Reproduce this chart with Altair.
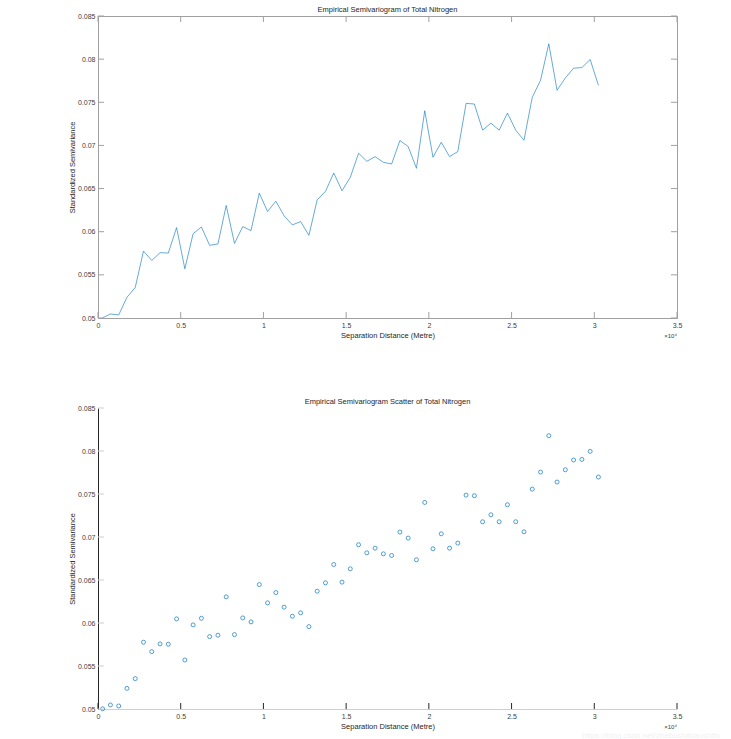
import altair as alt
import pandas as pd

# ---- data ----
distance_m = [280, 750, 1250, 1750, 2250, 2750, 3250, 3750, 4250, 4750,
              5250, 5750, 6250, 6750, 7250, 7750, 8250, 8750, 9250, 9750,
              10250, 10750, 11250, 11750, 12250, 12750, 13250, 13750, 14250, 14750,
              15250, 15750, 16250, 16750, 17250, 17750, 18250, 18750, 19250, 19750,
              20250, 20750, 21250, 21750, 22250, 22750, 23250, 23750, 24250, 24750,
              25250, 25750, 26250, 26750, 27250, 27750, 28250, 28750, 29250, 29750,
              30250]
semivariance = [0.05002, 0.05047, 0.05035, 0.0524, 0.05353, 0.05776, 0.05667, 0.05757, 0.05753, 0.06048,
                0.0557, 0.05978, 0.06055, 0.05842, 0.05858, 0.06304, 0.05865, 0.06059, 0.06013, 0.06447,
                0.06234, 0.06354, 0.06184, 0.06079, 0.06118, 0.05958, 0.0637, 0.06467, 0.0668, 0.06475,
                0.0663, 0.0691, 0.06816, 0.0687, 0.06804, 0.06785, 0.07057, 0.06987, 0.06735, 0.07402,
                0.06863, 0.07037, 0.0687, 0.06929, 0.07487, 0.0748, 0.07177, 0.07258, 0.07177, 0.07375,
                0.07177, 0.0706, 0.07557, 0.07755, 0.08178, 0.07639, 0.07782, 0.07895, 0.07902, 0.07996,
                0.07697]
x_ticks = [0, 5000, 10000, 15000, 20000, 25000, 30000, 35000]
y_ticks = [0.05, 0.055, 0.06, 0.065, 0.07, 0.075, 0.08, 0.085]
title_top = "Empirical Semivariogram of Total Nitrogen"
title_bottom = "Empirical Semivariogram Scatter of Total Nitrogen"
x_title = "Separation Distance (Metre)"
y_title = "Standardized Semivariance"
exponent_label = ["×10⁴"]
watermark = ["https://blog.csdn.net/zhebushibiaoshifu"]

df = pd.DataFrame({"dist": distance_m, "gamma": semivariance})
xt = pd.DataFrame({"t": x_ticks})
yt = pd.DataFrame({"t": y_ticks})

FONT = "Liberation Sans"
W, H_TOP, H_BOT = 579, 302, 301
SPACING = 90
TL = 6
BLUE = "#0072BD"
GRAY = "#a0a0a0"
LIGHT = "#cfcfcf"
DARK = "#262626"
LABEL = "#404040"

xscale = alt.Scale(domain=[0, 35000], nice=False, zero=False)
yscale = alt.Scale(domain=[0.05, 0.085], nice=False, zero=False)


def x_axis(domain_color):
    return alt.Axis(values=x_ticks, labelExpr="format(datum.value / 10000, '~g')",
                    ticks=False, grid=False, domainColor=domain_color, domainWidth=1,
                    labelFlush=False,
                    labelFont=FONT, labelFontSize=7, labelColor=LABEL, labelPadding=3,
                    titleFont=FONT, titleFontSize=7.5, titleFontWeight="normal",
                    titleColor="#262626", titlePadding=3)


def y_axis(domain_color):
    return alt.Axis(values=y_ticks, labelExpr="format(datum.value, '.3~f')",
                    ticks=False, grid=False, domainColor=domain_color, domainWidth=1,
                    labelFlush=False,
                    labelFont=FONT, labelFontSize=7, labelColor=LABEL, labelPadding=3,
                    titleFont=FONT, titleFontSize=7.5, titleFontWeight="normal",
                    titleColor="#262626", titlePadding=1)


def xtick_layer(color, h, xax, top=False):
    y0, y1 = (0, TL) if top else (h, h - TL)
    return alt.Chart(xt).mark_rule(color=color, strokeWidth=1).encode(
        x=alt.X("t:Q", scale=xscale, axis=xax, title=x_title),
        y=alt.value(y0), y2=alt.value(y1))


def ytick_layer(color, yax, right=False):
    x0, x1 = (W, W - TL) if right else (0, TL)
    return alt.Chart(yt).mark_rule(color=color, strokeWidth=1).encode(
        y=alt.Y("t:Q", scale=yscale, axis=yax, title=y_title),
        x=alt.value(x0), x2=alt.value(x1))


def exp_layer(h):
    return alt.Chart(pd.DataFrame({"s": exponent_label})).mark_text(
        font=FONT, fontSize=6, color=LABEL, align="right", baseline="middle").encode(
        text="s:N", x=alt.value(W), y=alt.value(h + 18))


title_params = dict(font=FONT, fontSize=7.5, fontWeight="normal", color="#262626", offset=-1)

# ---- top: line ----
xa_top, ya_top = x_axis(GRAY), y_axis(GRAY)
line = alt.Chart(df).mark_line(color=BLUE, strokeWidth=0.8, opacity=0.75).encode(
    x=alt.X("dist:Q", scale=xscale, axis=xa_top, title=x_title),
    y=alt.Y("gamma:Q", scale=yscale, axis=ya_top, title=y_title))

top = alt.layer(
    line,
    xtick_layer(GRAY, H_TOP, xa_top), xtick_layer(GRAY, H_TOP, xa_top, top=True),
    ytick_layer(GRAY, ya_top), ytick_layer(GRAY, ya_top, right=True),
    exp_layer(H_TOP),
).properties(width=W, height=H_TOP,
             title=alt.TitleParams(title_top, **title_params),
             view=alt.ViewBackground(stroke=GRAY, strokeWidth=1))

# ---- bottom: scatter ----
xa_bot, ya_bot = x_axis(LIGHT), y_axis(DARK)
pts = alt.Chart(df).mark_point(shape="circle", filled=False, color=BLUE, size=16,
                               strokeWidth=0.8, opacity=0.85).encode(
    x=alt.X("dist:Q", scale=xscale, axis=xa_bot, title=x_title),
    y=alt.Y("gamma:Q", scale=yscale, axis=ya_bot, title=y_title))

wm = alt.Chart(pd.DataFrame({"s": watermark})).mark_text(
    font=FONT, fontSize=8, color="#f1f1f1", align="left", baseline="middle").encode(
    text="s:N", x=alt.value(484), y=alt.value(H_BOT + 27))

bottom = alt.layer(
    pts,
    xtick_layer(DARK, H_BOT, xa_bot),
    ytick_layer(LIGHT, ya_bot),
    exp_layer(H_BOT),
    wm,
).properties(width=W, height=H_BOT,
             title=alt.TitleParams(title_bottom, **title_params),
             view=alt.ViewBackground(stroke="transparent"))

# With autosize "none", the root keeps width = panel width and height = 0,
# so the padding fills the rest of the 731x739 page.
pad_right = 731 - 98 - W
pad_bottom = 739 - 16

chart = alt.vconcat(top, bottom, spacing=SPACING, bounds="flush").properties(
    autosize=alt.AutoSizeParams(type="none"),
    padding={"left": 98, "top": 16, "right": pad_right, "bottom": pad_bottom},
    background="white",
).configure_view(stroke="transparent")

chart.save("out.html", embed_options={"renderer": "svg", "actions": False})
